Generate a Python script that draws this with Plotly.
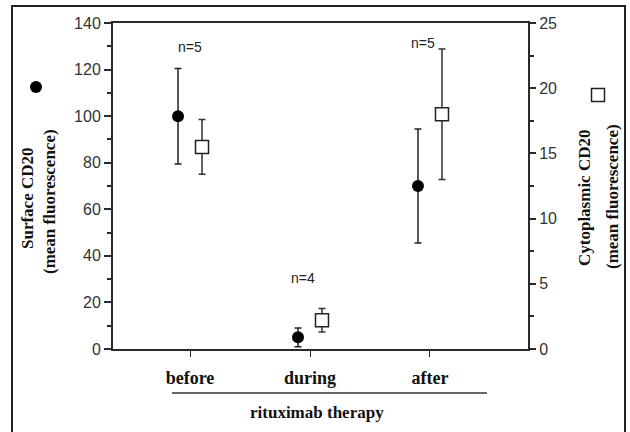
import plotly.graph_objects as go

# ---- data ----
categories = ["before", "during", "after"]
surface_mean = [100, 5, 70]
surface_err = [20.5, 4, 24.5]
cyto_mean = [15.5, 2.2, 18.0]
cyto_err = [2.1, 0.9, 5.0]
n_labels = ["n=5", "n=4", "n=5"]
y_left_ticks = [0, 20, 40, 60, 80, 100, 120, 140]
y_right_ticks = [0, 5, 10, 15, 20, 25]

# ---- layout geometry (pixels) ----
W, H = 630, 432
L, R, T, B = 113, 528, 23, 349
PW, PH = R - L, B - T

def px(xp):
    return (xp - L) / PW

def py(yp):
    return (B - yp) / PH

pos = [i + 1 for i in range(len(categories))]
off = 0.1
AX = "#2a2a2a"
SANS = "Liberation Sans"
SERIF = "Liberation Serif"

fig = go.Figure()
fig.add_trace(go.Scatter(
    x=[p - off for p in pos], y=surface_mean, mode="markers",
    marker=dict(symbol="circle", size=12, color="black", line=dict(width=0)),
    error_y=dict(type="data", array=surface_err, color="#222", thickness=1.5, width=3.5),
    name="", showlegend=True, legend="legend", cliponaxis=False,
))
fig.add_trace(go.Scatter(
    x=[p + off for p in pos], y=cyto_mean, mode="markers", yaxis="y2",
    marker=dict(symbol="square", size=13, color="white", line=dict(width=1.5, color="#222")),
    error_y=dict(type="data", array=cyto_err, color="#333", thickness=1.5, width=3.5),
    name="", showlegend=True, legend="legend2", cliponaxis=False,
))

# n annotations
n_pos = [(1.0, 129.5), (1.94, 30.5), (2.94, 131.4)]
for txt, (ax_, ay_) in zip(n_labels, n_pos):
    fig.add_annotation(x=ax_, y=ay_, xref="x", yref="y", text=txt, showarrow=False,
                       xanchor="center", yanchor="middle",
                       font=dict(family=SANS, size=14, color="#222"))

# axis titles
title_font = dict(family=SERIF, size=17, color="#111", weight="bold")
for txt, xx, yy in [("Surface CD20", 27, 198), ("(mean fluorescence)", 50, 202),
                    ("Cytoplasmic CD20", 584, 198), ("(mean fluorescence)", 612, 197)]:
    fig.add_annotation(x=px(xx), y=py(yy), xref="paper", yref="paper", text=txt,
                       textangle=-90, showarrow=False, xanchor="center", yanchor="middle",
                       font=title_font)
fig.add_annotation(x=px(317), y=py(412), xref="paper", yref="paper", text="rituximab therapy",
                   showarrow=False, xanchor="center", yanchor="middle",
                   font=dict(family=SERIF, size=17, color="#111", weight="bold"))

# decorative line and outer border
fig.add_shape(type="line", xref="paper", yref="paper", x0=px(172), x1=px(487), y0=py(393), y1=py(393),
              line=dict(color="#333", width=1.5))
fig.add_shape(type="rect", xref="paper", yref="paper", x0=px(12), x1=px(625), y0=py(445), y1=py(6),
              line=dict(color="#222", width=2))

fig.update_layout(
    width=W, height=H,
    margin=dict(l=L, r=W - R, t=T, b=H - B, autoexpand=False),
    paper_bgcolor="white", plot_bgcolor="white",
    xaxis=dict(range=[0.358, 3.817], tickvals=pos, ticktext=categories,
               showline=True, linecolor=AX, linewidth=2, mirror=True,
               ticks="outside", ticklen=6, tickcolor=AX, showgrid=False, zeroline=False,
               tickfont=dict(family=SERIF, size=18, color="#111", weight="bold"),
               ticklabelstandoff=5),
    yaxis=dict(range=[0, 140], tickvals=y_left_ticks, showline=True, linecolor=AX, linewidth=2,
               ticks="outside", ticklen=7, tickcolor=AX, tickwidth=1.5, showgrid=False, zeroline=False,
               minor=dict(dtick=10, ticks="outside", ticklen=4, tickcolor=AX),
               tickfont=dict(family=SANS, size=16, color="#333")),
    yaxis2=dict(range=[0, 25], tickvals=y_right_ticks, overlaying="y", side="right",
                showline=True, linecolor=AX, linewidth=2,
                ticks="outside", ticklen=6, tickcolor=AX, tickwidth=1.5, showgrid=False, zeroline=False,
                minor=dict(dtick=2.5, ticks="outside", ticklen=4, tickcolor=AX),
                tickfont=dict(family=SANS, size=16, color="#333")),
    legend=dict(x=px(39 - 23), y=py(87), xanchor="left", yanchor="middle", bgcolor="rgba(0,0,0,0)",
                borderwidth=0, font=dict(size=1)),
    legend2=dict(x=px(601 - 23), y=py(95), xanchor="left", yanchor="middle", bgcolor="rgba(0,0,0,0)",
                 borderwidth=0, font=dict(size=1)),
)

fig.write_html("out.html", config={"displayModeBar": False},
               post_script="document.body.style.margin='0';")
